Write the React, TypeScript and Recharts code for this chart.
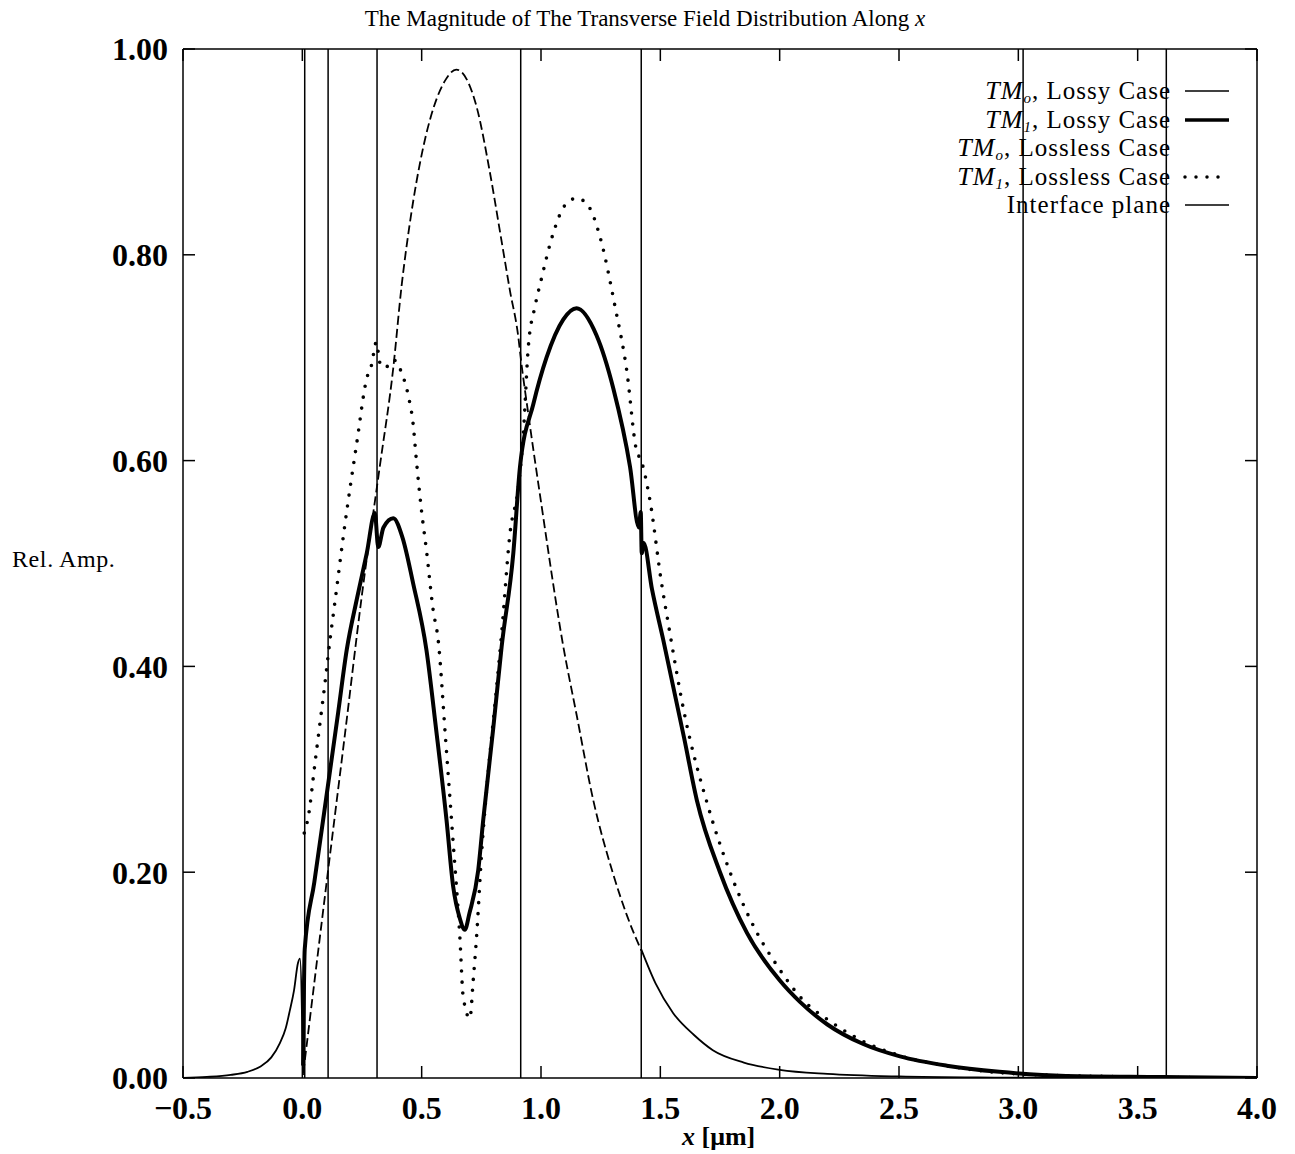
import React from "react";
import { LineChart, Line, XAxis, YAxis, ReferenceLine } from "recharts";

// x in um, y = relative amplitude
const tm0Lossy = [
  { x: -0.5, y: 0 }, { x: -0.4, y: 0.001 }, { x: -0.3, y: 0.003 }, { x: -0.23, y: 0.006 },
  { x: -0.177, y: 0.011 }, { x: -0.13, y: 0.02 }, { x: -0.094, y: 0.034 }, { x: -0.07, y: 0.048 },
  { x: -0.052, y: 0.066 }, { x: -0.035, y: 0.085 }, { x: -0.018, y: 0.112 }, { x: -0.01, y: 0.116 },
  { x: 0.003, y: 0.003 }, { x: 0.0031, y: null },
  { x: 1.419, y: null }, { x: 1.42, y: 0.125 }, { x: 1.48, y: 0.092 }, { x: 1.554, y: 0.063 },
  { x: 1.64, y: 0.042 }, { x: 1.72, y: 0.027 }, { x: 1.85, y: 0.015 }, { x: 2.0, y: 0.008 },
  { x: 2.2, y: 0.004 }, { x: 2.5, y: 0.0015 }, { x: 2.9, y: 0.0004 }, { x: 3.3, y: 0 }, { x: 4.0, y: 0 },
];

const tm1Lossy = [
  { x: 0.003, y: 0.012 }, { x: 0.01, y: 0.125 }, { x: 0.05, y: 0.19 }, { x: 0.1, y: 0.272 },
  { x: 0.15, y: 0.355 }, { x: 0.186, y: 0.416 }, { x: 0.228, y: 0.465 }, { x: 0.27, y: 0.51 },
  { x: 0.304, y: 0.549 }, { x: 0.318, y: 0.516 }, { x: 0.34, y: 0.535 }, { x: 0.381, y: 0.544 },
  { x: 0.42, y: 0.525 }, { x: 0.464, y: 0.481 }, { x: 0.52, y: 0.416 }, { x: 0.56, y: 0.34 },
  { x: 0.604, y: 0.251 }, { x: 0.632, y: 0.186 }, { x: 0.66, y: 0.155 }, { x: 0.681, y: 0.144 },
  { x: 0.7, y: 0.16 }, { x: 0.737, y: 0.202 }, { x: 0.758, y: 0.251 }, { x: 0.8, y: 0.34 },
  { x: 0.835, y: 0.419 }, { x: 0.884, y: 0.51 }, { x: 0.912, y: 0.594 }, { x: 0.968, y: 0.655 },
  { x: 1.023, y: 0.7 }, { x: 1.093, y: 0.737 }, { x: 1.149, y: 0.748 }, { x: 1.232, y: 0.722 },
  { x: 1.303, y: 0.67 }, { x: 1.373, y: 0.594 }, { x: 1.41, y: 0.535 }, { x: 1.418, y: 0.55 },
  { x: 1.422, y: 0.51 }, { x: 1.43, y: 0.52 }, { x: 1.465, y: 0.475 }, { x: 1.512, y: 0.426 },
  { x: 1.6, y: 0.33 }, { x: 1.653, y: 0.27 }, { x: 1.75, y: 0.2 }, { x: 1.863, y: 0.141 },
  { x: 2.0, y: 0.095 }, { x: 2.085, y: 0.074 }, { x: 2.2, y: 0.052 }, { x: 2.35, y: 0.033 },
  { x: 2.504, y: 0.021 }, { x: 2.7, y: 0.012 }, { x: 2.92, y: 0.006 }, { x: 3.2, y: 0.002 },
  { x: 3.6, y: 0.001 }, { x: 4.0, y: 0 },
];

const tm0Lossless = [
  { x: 0.004, y: 0.005 }, { x: 0.107, y: 0.2 }, { x: 0.179, y: 0.335 }, { x: 0.25, y: 0.47 },
  { x: 0.325, y: 0.595 }, { x: 0.381, y: 0.69 }, { x: 0.416, y: 0.77 }, { x: 0.45, y: 0.83 },
  { x: 0.507, y: 0.905 }, { x: 0.55, y: 0.943 }, { x: 0.6, y: 0.97 }, { x: 0.645, y: 0.98 },
  { x: 0.69, y: 0.97 }, { x: 0.73, y: 0.944 }, { x: 0.786, y: 0.88 }, { x: 0.83, y: 0.82 },
  { x: 0.87, y: 0.765 }, { x: 0.905, y: 0.72 }, { x: 0.915, y: 0.7 }, { x: 0.95, y: 0.64 },
  { x: 1.0, y: 0.56 }, { x: 1.093, y: 0.42 }, { x: 1.15, y: 0.352 }, { x: 1.219, y: 0.27 },
  { x: 1.3, y: 0.2 }, { x: 1.36, y: 0.158 }, { x: 1.42, y: 0.124 },
];

const tm1Lossless = [
  { x: 0.008, y: 0.238 }, { x: 0.025, y: 0.254 }, { x: 0.053, y: 0.306 }, { x: 0.074, y: 0.345 },
  { x: 0.095, y: 0.384 }, { x: 0.116, y: 0.426 }, { x: 0.134, y: 0.458 }, { x: 0.179, y: 0.539 },
  { x: 0.228, y: 0.617 }, { x: 0.27, y: 0.68 }, { x: 0.29, y: 0.693 }, { x: 0.31, y: 0.715 },
  { x: 0.325, y: 0.695 }, { x: 0.346, y: 0.69 }, { x: 0.381, y: 0.698 }, { x: 0.415, y: 0.686 },
  { x: 0.445, y: 0.662 }, { x: 0.464, y: 0.636 }, { x: 0.478, y: 0.6 }, { x: 0.499, y: 0.552 },
  { x: 0.52, y: 0.513 }, { x: 0.548, y: 0.455 }, { x: 0.569, y: 0.426 }, { x: 0.6, y: 0.33 },
  { x: 0.63, y: 0.235 }, { x: 0.66, y: 0.137 }, { x: 0.674, y: 0.079 }, { x: 0.702, y: 0.058 },
  { x: 0.716, y: 0.095 }, { x: 0.73, y: 0.137 }, { x: 0.751, y: 0.218 }, { x: 0.78, y: 0.3 },
  { x: 0.81, y: 0.37 }, { x: 0.835, y: 0.432 }, { x: 0.87, y: 0.529 }, { x: 0.905, y: 0.574 },
  { x: 0.926, y: 0.626 }, { x: 0.947, y: 0.711 }, { x: 0.975, y: 0.75 }, { x: 1.0, y: 0.775 },
  { x: 1.05, y: 0.82 }, { x: 1.1, y: 0.848 }, { x: 1.15, y: 0.855 }, { x: 1.2, y: 0.847 },
  { x: 1.25, y: 0.815 }, { x: 1.31, y: 0.75 }, { x: 1.359, y: 0.688 }, { x: 1.4, y: 0.61 },
  { x: 1.42, y: 0.6 }, { x: 1.456, y: 0.562 }, { x: 1.505, y: 0.481 }, { x: 1.533, y: 0.442 },
  { x: 1.6, y: 0.355 }, { x: 1.7, y: 0.264 }, { x: 1.792, y: 0.2 }, { x: 1.903, y: 0.142 },
  { x: 1.987, y: 0.11 }, { x: 2.085, y: 0.079 }, { x: 2.225, y: 0.053 }, { x: 2.364, y: 0.034 },
  { x: 2.5, y: 0.022 }, { x: 2.75, y: 0.01 }, { x: 3.0, y: 0.004 }, { x: 3.5, y: 0.001 }, { x: 4.0, y: 0 },
];

const interfacePlanes = [0.01, 0.108, 0.313, 0.915, 1.42, 3.02, 3.62];

const xTicks = [-0.5, 0, 0.5, 1.0, 1.5, 2.0, 2.5, 3.0, 3.5, 4.0];
const yTicks = [0, 0.2, 0.4, 0.6, 0.8, 1.0];

const legendRows = [
  { sub: "o", label: ", Lossy Case", sample: "thin" },
  { sub: "1", label: ", Lossy Case", sample: "thick" },
  { sub: "o", label: ", Lossless Case", sample: "none" },
  { sub: "1", label: ", Lossless Case", sample: "dots" },
  { sub: "", label: "Interface plane", sample: "thin" },
];

const FONT = '"Liberation Serif", "DejaVu Serif", serif';

const fmtX = (v: number) => (v < 0 ? "\u2212" + Math.abs(v).toFixed(1) : v.toFixed(1));

const noLabel = () => <g />;

function LegendSample({ kind }: { kind: string }) {
  if (kind === "none") return <svg width={48} height={10} />;
  return (
    <svg width={48} height={10}>
      <line
        x1={2}
        x2={46}
        y1={5}
        y2={5}
        stroke="#000"
        strokeWidth={kind === "thick" ? 3.5 : kind === "dots" ? 3.5 : 1.6}
        strokeDasharray={kind === "dots" ? "0 11" : undefined}
        strokeLinecap={kind === "dots" ? "round" : "butt"}
      />
    </svg>
  );
}

export default function App() {
  return (
    <div style={{ position: "relative", width: 1287, height: 1146, fontFamily: FONT, background: "#fff", color: "#000" }}>
      <div style={{ position: "absolute", left: 0, width: 1274, top: -2, textAlign: "center", fontSize: 23 }}>
        The Magnitude of The Transverse Field Distribution Along <i>x</i>
      </div>
      <div style={{ position: "absolute", left: 4, top: 538, fontSize: 24, letterSpacing: 0.6 }}>Rel. Amp.</div>
      <div style={{ position: "absolute", left: 674, top: 1114, fontSize: 26, fontWeight: 700 }}>
        <i>x</i> [{"\u03bc"}m]
      </div>
      <div style={{ position: "absolute", right: 1287 - 1223, top: 69, zIndex: 2 }}>
        {legendRows.map((r, i) => (
          <div key={i} style={{ display: "flex", alignItems: "center", justifyContent: "flex-end", height: 28.5, fontSize: 25, lineHeight: "26px", letterSpacing: 1, whiteSpace: "nowrap" }}>
            <span style={{ marginRight: 12 }}>
              {r.sub !== "" && (
                <span style={{ fontStyle: "italic", fontSize: 26 }}>
                  TM
                  <span style={{ fontSize: 15, position: "relative", top: 4, lineHeight: "15px" }}>{r.sub}</span>
                </span>
              )}
              {r.label}
            </span>
            <LegendSample kind={r.sample} />
          </div>
        ))}
      </div>
      <LineChart width={1287} height={1146} margin={{ top: 40, right: 37, left: 95, bottom: 36 }}>
        <XAxis
          type="number"
          dataKey="x"
          domain={[-0.5, 4]}
          ticks={xTicks}
          allowDataOverflow
          tickFormatter={fmtX}
          height={40}
          tickSize={-12}
          tickMargin={30}
          stroke="#000"
          strokeWidth={1.5}
          tick={{ fill: "#000", fontSize: 32, fontFamily: FONT, fontWeight: 700 }}
        />
        <XAxis
          xAxisId="top"
          orientation="top"
          type="number"
          dataKey="x"
          domain={[-0.5, 4]}
          ticks={xTicks}
          allowDataOverflow
          height={1}
          tick={noLabel}
          tickSize={-12}
          stroke="#000"
          strokeWidth={1.5}
        />
        <YAxis
          type="number"
          domain={[0, 1]}
          ticks={yTicks}
          allowDataOverflow
          width={80}
          tickFormatter={(v: number) => v.toFixed(2)}
          tickSize={-12}
          tickMargin={27}
          stroke="#000"
          strokeWidth={1.5}
          tick={{ fill: "#000", fontSize: 32, fontFamily: FONT, fontWeight: 700 }}
        />
        <YAxis
          yAxisId="right"
          orientation="right"
          type="number"
          domain={[0, 1]}
          ticks={yTicks}
          allowDataOverflow
          width={1}
          tick={noLabel}
          tickSize={-12}
          stroke="#000"
          strokeWidth={1.5}
        />
        {interfacePlanes.map((p) => (
          <ReferenceLine key={p} x={p} stroke="#000" strokeWidth={1.5} />
        ))}
        <Line data={tm0Lossless} dataKey="y" type="monotone" stroke="#000" strokeWidth={1.8} strokeDasharray="9 4" dot={false} isAnimationActive={false} />
        <Line data={tm0Lossy} dataKey="y" type="monotone" stroke="#000" strokeWidth={1.8} dot={false} isAnimationActive={false} />
        <Line data={tm1Lossless} dataKey="y" type="monotone" stroke="#000" strokeWidth={3.6} strokeDasharray="0 11" strokeLinecap="round" dot={false} isAnimationActive={false} />
        <Line data={tm1Lossy} dataKey="y" type="monotone" stroke="#000" strokeWidth={4} dot={false} isAnimationActive={false} />
      </LineChart>
    </div>
  );
}
